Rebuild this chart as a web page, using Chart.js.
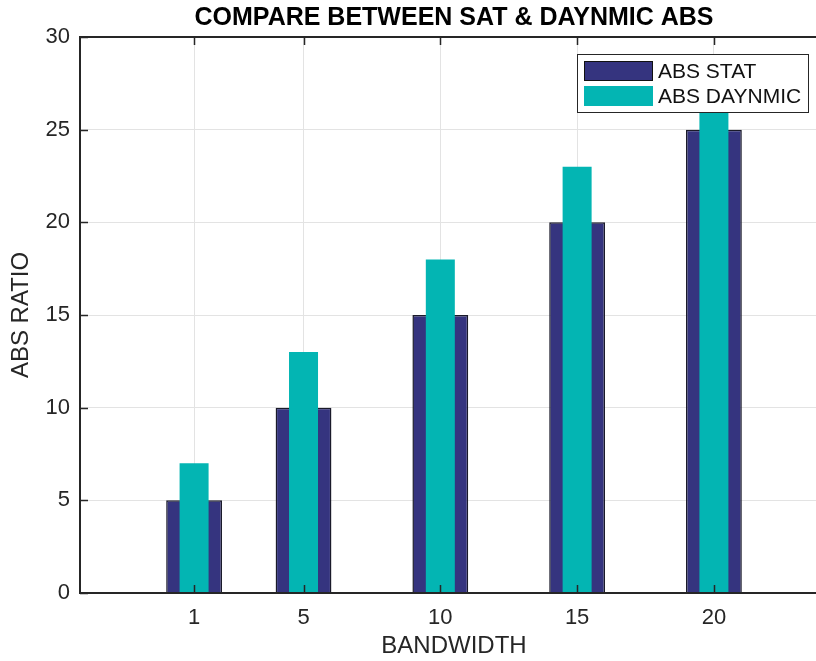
<!DOCTYPE html>
<html>
<head>
<meta charset="utf-8">
<script src="https://cdn.jsdelivr.net/npm/chart.js@4.4.1/dist/chart.umd.min.js"></script>
<style>
  html, body { margin: 0; padding: 0; background: #fff; overflow: hidden; }
  #wrap { width: 832px; height: 661px; }
</style>
</head>
<body>
<div id="wrap"><canvas id="chart" width="832" height="661"></canvas></div>
<script>
// values
const bandwidth = [1, 5, 10, 15, 20];
const absStat = [5, 10, 15, 20, 25];
const absDynamic = [7, 13, 18, 23, 28];
const xTicks = [1, 5, 10, 15, 20];
const yTicks = [0, 5, 10, 15, 20, 25, 30];
const seriesNames = ['ABS STAT', 'ABS DAYNMIC'];
const chartTitle = 'COMPARE BETWEEN SAT & DAYNMIC ABS';

const navy = '#35347f';
const teal = '#03b5b3';
const ink = '#262626';
const fontFamily = "'Liberation Sans', Arial, Helvetica, sans-serif";

// MATLAB-style box, inward ticks, legend and title
const matlabFrame = {
  id: 'matlabFrame',
  afterDatasetsDraw(chart) {
    const { ctx, chartArea: a, scales: { x, y } } = chart;
    ctx.save();
    ctx.strokeStyle = ink;
    ctx.lineWidth = 2;
    ctx.beginPath();
    ctx.moveTo(a.left, a.top);
    ctx.lineTo(a.right, a.top);
    ctx.moveTo(a.left, a.top - 1);
    ctx.lineTo(a.left, a.bottom + 1);
    ctx.moveTo(a.left - 1, a.bottom);
    ctx.lineTo(a.right, a.bottom);
    ctx.stroke();

    ctx.lineWidth = 1.5;
    ctx.beginPath();
    xTicks.forEach(v => {
      const px = Math.round(x.getPixelForValue(v)) + 0.5;
      ctx.moveTo(px, a.bottom);
      ctx.lineTo(px, a.bottom - 8);
      ctx.moveTo(px, a.top);
      ctx.lineTo(px, a.top + 8);
    });
    yTicks.forEach(v => {
      const py = Math.round(y.getPixelForValue(v)) + 0.5;
      ctx.moveTo(a.left, py);
      ctx.lineTo(a.left + 8, py);
    });
    ctx.stroke();

    // legend box
    const lx = a.right - 251, ly = a.top + 17, lw = 231, lh = 58;
    ctx.fillStyle = '#fff';
    ctx.fillRect(lx, ly, lw, lh);
    ctx.strokeStyle = ink;
    ctx.lineWidth = 1;
    ctx.strokeRect(lx + 0.5, ly + 0.5, lw, lh);
    const swatches = [navy, teal];
    ctx.font = '21px ' + fontFamily;
    ctx.textBaseline = 'middle';
    ctx.textAlign = 'left';
    seriesNames.forEach((name, i) => {
      const sy = ly + 7 + i * 25;
      ctx.fillStyle = swatches[i];
      ctx.fillRect(lx + 7, sy, 69, 20);
      if (i === 0) {
        ctx.strokeStyle = '#111';
        ctx.strokeRect(lx + 7.5, sy + 0.5, 68, 19);
      }
      ctx.fillStyle = '#111';
      ctx.fillText(name, lx + 81, sy + 11);
    });
    ctx.restore();
  },
  afterDraw(chart) {
    const { ctx, chartArea: a } = chart;
    ctx.save();
    ctx.font = 'bold 25px ' + fontFamily;
    ctx.fillStyle = '#000';
    ctx.textAlign = 'center';
    ctx.textBaseline = 'middle';
    ctx.fillText(chartTitle, (a.left + a.right) / 2, 18);
    ctx.restore();
  }
};

new Chart(document.getElementById('chart'), {
  type: 'bar',
  data: {
    datasets: [
      {
        label: seriesNames[1],
        data: bandwidth.map((b, i) => ({ x: b, y: absDynamic[i] })),
        backgroundColor: teal,
        borderWidth: 0,
        barPercentage: 0.265,
        categoryPercentage: 1,
        grouped: false,
        order: 0
      },
      {
        label: seriesNames[0],
        data: bandwidth.map((b, i) => ({ x: b, y: absStat[i] })),
        backgroundColor: navy,
        borderColor: '#1a1a2a',
        borderWidth: 1.5,
        barPercentage: 0.51,
        categoryPercentage: 1,
        grouped: false,
        order: 1
      }
    ]
  },
  options: {
    responsive: false,
    animation: false,
    layout: { padding: { top: 37, right: 4, left: 0, bottom: 0 } },
    plugins: {
      legend: { display: false },
      title: { display: false },
      tooltip: { enabled: false }
    },
    scales: {
      x: {
        type: 'linear',
        offset: false,
        min: -3.17,
        max: 24.17,
        afterBuildTicks: scale => { scale.ticks = xTicks.map(v => ({ value: v })); },
        afterFit: scale => { scale.height = 68; },
        grid: { color: '#e3e3e3', drawTicks: false, offset: false },
        border: { display: false },
        ticks: {
          color: ink,
          padding: 12,
          font: { family: fontFamily, size: 22 },
          maxRotation: 0,
          callback: v => String(v)
        },
        title: {
          display: true,
          text: 'BANDWIDTH',
          color: ink,
          padding: { top: 0, bottom: 0 },
          font: { family: fontFamily, size: 24 }
        }
      },
      y: {
        min: 0,
        max: 30,
        afterBuildTicks: scale => { scale.ticks = yTicks.map(v => ({ value: v })); },
        afterFit: scale => { scale.width = 80; },
        grid: { color: '#e3e3e3', drawTicks: false },
        border: { display: false },
        ticks: {
          color: ink,
          padding: 10,
          font: { family: fontFamily, size: 22 }
        },
        title: {
          display: true,
          text: 'ABS RATIO',
          color: ink,
          padding: { top: 7, bottom: 0 },
          font: { family: fontFamily, size: 24 }
        }
      }
    }
  },
  plugins: [matlabFrame]
});
</script>
</body>
</html>
